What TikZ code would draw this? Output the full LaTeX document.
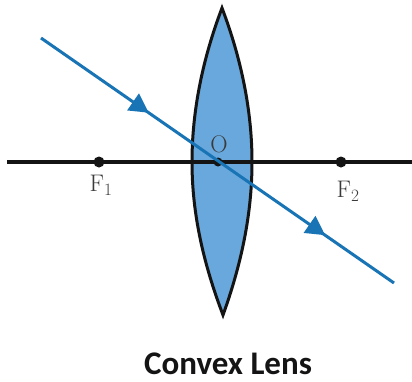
\documentclass[tikz,border=0pt]{standalone}
\usepackage{fontspec}
\newfontfamily\capfont{Carlito}
\usetikzlibrary{arrows.meta,decorations.markings}
\definecolor{lensblue}{HTML}{68A8DC}
\definecolor{rayblue}{HTML}{1874B4}
\definecolor{inkdark}{HTML}{141414}
\definecolor{labelgrey}{HTML}{3A3A3A}
\tikzset{
  axisline/.style={draw=inkdark,line width=3.2pt},
  lensbody/.style={draw=inkdark,line width=3pt,fill=lensblue,line join=miter},
  dotmark/.style={circle,fill=inkdark,inner sep=0pt,minimum size=11pt},
  raypath/.style={draw=rayblue,line width=3pt,postaction={decorate},
    decoration={markings,
      mark=at position 0.305 with {\arrow{Triangle[length=19pt,width=20pt,color=rayblue]}},
      mark=at position 0.805 with {\arrow{Triangle[length=19pt,width=20pt,color=rayblue]}}}},
  symlabel/.style={text=labelgrey,font=\fontsize{24}{24}\selectfont,inner sep=0pt},
  caption/.style={text=inkdark,font=\capfont\bfseries\fontsize{33}{33}\selectfont,inner sep=0pt}
}
\begin{document}
\begin{tikzpicture}[x=1pt,y=-1pt]
\useasboundingbox[fill=white] (0,0) rectangle (412,381);
\coordinate (laxL) at (7,162);
\coordinate (laxR) at (412,162);
\coordinate (lensTop) at (222,8);
\coordinate (lensBot) at (223,315);
\coordinate (rayA) at (41,38);
\coordinate (rayB) at (394,283);
\path[lensbody] (lensTop) .. controls (203,58) and (192,110) .. (192,162)
  .. controls (192,215) and (204,265) .. (lensBot)
  .. controls (241,265) and (252,215) .. (252,162)
  .. controls (252,110) and (241,58) .. (lensTop) -- cycle;
\draw[axisline] (laxL) -- (laxR);
\node[dotmark] (F1) at (99,162) {};
\node[dotmark] (F2) at (341,162) {};
\node[dotmark,minimum size=9pt] (O) at (218,162) {};
\path[raypath] (rayA) -- (rayB);
\node[symlabel] (tO) at (219,144) {O};
\node[symlabel] (tF1) at (101,185) {F$_1$};
\node[symlabel] (tF2) at (348,191) {F$_2$};
\node[caption] (cap) at (228,363.5) {Convex Lens};
\end{tikzpicture}
\end{document}
